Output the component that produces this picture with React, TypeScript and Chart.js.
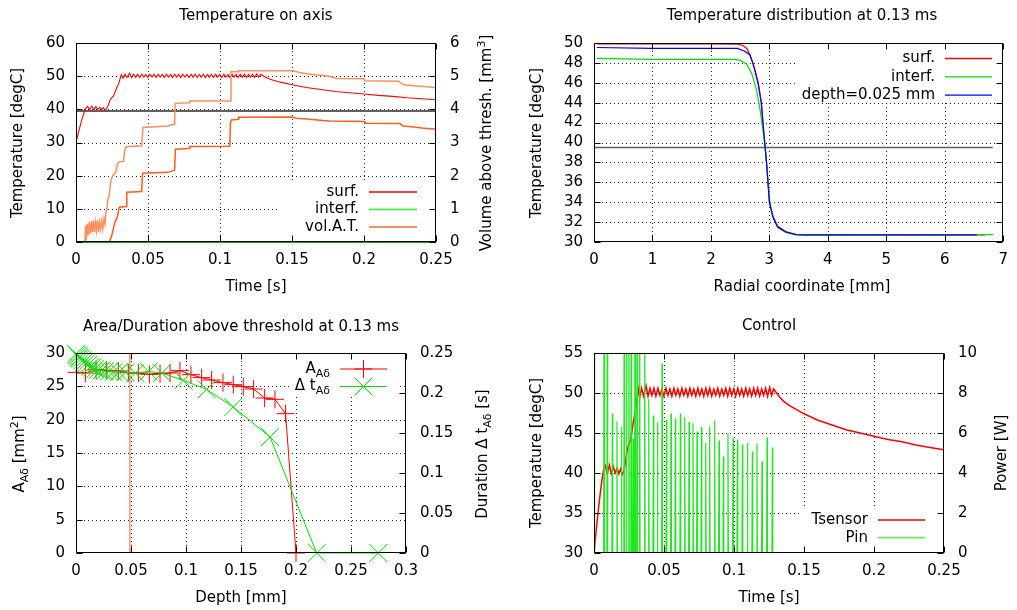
import React, { useEffect, useRef } from 'react';
import { Chart, registerables } from 'chart.js';

Chart.register(...registerables);

// ---------------- DATA ----------------
// Top-left: Temperature on axis (surface temperature, also used as Tsensor in "Control")
const surfTime = [
  0, 0.002, 0.004, 0.0055, 0.0068,
  0.0081, 0.0095, 0.011, 0.0124, 0.0138, 0.0152, 0.0165, 0.0178, 0.019, 0.0201, 0.0212,
  0.0222, 0.0235, 0.0245, 0.0258, 0.027, 0.0282, 0.0295, 0.0306, 0.0316,
  0.0326, 0.034, 0.0354, 0.0372, 0.0386, 0.04, 0.0414, 0.0428, 0.0442, 0.0457,
  0.0471, 0.0485, 0.0499, 0.0514, 0.0528, 0.0542, 0.0556, 0.0571, 0.0585, 0.0599,
  0.0613, 0.0628, 0.0642, 0.0656, 0.067, 0.0685, 0.0699, 0.0713, 0.0727, 0.0742,
  0.0756, 0.077, 0.0784, 0.0799, 0.0813, 0.0827, 0.0841, 0.0856, 0.087, 0.0884,
  0.0898, 0.0913, 0.0927, 0.0941, 0.0955, 0.097, 0.0984, 0.0998, 0.1012, 0.1027,
  0.1041, 0.1055, 0.1069, 0.1084, 0.1098, 0.1112, 0.1126, 0.1141, 0.1155, 0.1169,
  0.1183, 0.1198, 0.1212, 0.1226, 0.124, 0.1255, 0.1269, 0.1283,
  0.13, 0.133, 0.136, 0.14, 0.145, 0.15, 0.16, 0.17, 0.18, 0.19, 0.2, 0.21, 0.22, 0.23, 0.24, 0.25,
];
const surfTemp = [
  30, 33.6, 36.8, 38.9, 40.4,
  40.9, 39.9, 41.0, 39.9, 40.8, 40.0, 40.6, 39.9, 40.5, 39.8, 40.2,
  41.0, 42.6, 43.4, 43.9, 45.0, 46.5, 47.6, 49.2, 50.5,
  49.4, 50.6, 49.6, 50.9, 49.6, 50.6, 49.7, 50.6, 49.6, 50.6,
  49.7, 50.5, 49.6, 50.6, 49.7, 50.5, 49.6, 50.6, 49.7, 50.5,
  49.6, 50.6, 49.7, 50.5, 49.6, 50.6, 49.7, 50.5, 49.6, 50.6,
  49.7, 50.5, 49.6, 50.6, 49.7, 50.6, 49.6, 50.5, 49.7, 50.6,
  49.6, 50.5, 49.7, 50.6, 49.6, 50.6, 49.7, 50.5, 49.6, 50.6,
  49.7, 50.5, 49.6, 50.6, 49.7, 50.5, 49.6, 50.6, 49.7, 50.6,
  49.6, 50.5, 49.7, 50.6, 49.6, 50.7, 49.7, 50.5,
  50.1, 49.4, 48.9, 48.4, 47.9, 47.4, 46.6, 46.0, 45.4, 45.0, 44.6, 44.2, 43.9, 43.5, 43.2, 42.9,
];
const interfTime = [0, 0.25];
const interfTemp = [0, 0];
const thresholdTime = [0, 0.25];
const thresholdTemp = [39.5, 39.5];

const volUpperTime = [
  0, 0.0062, 0.0066, 0.0071, 0.0078, 0.0085, 0.0092, 0.0099, 0.0106, 0.0113,
  0.012, 0.0127, 0.0134, 0.0141, 0.0148, 0.0156, 0.0163, 0.017, 0.0178, 0.0186,
  0.0194, 0.0201, 0.0208, 0.0214, 0.0222, 0.0231, 0.0238, 0.0246, 0.0256, 0.0266,
  0.0276, 0.0288, 0.0299, 0.033, 0.0338, 0.0348, 0.0456, 0.0465, 0.064, 0.066,
  0.0685, 0.0688, 0.0787, 0.079, 0.107, 0.1076, 0.1127, 0.113, 0.151, 0.156,
  0.1625, 0.17, 0.176, 0.181, 0.2, 0.2007, 0.224, 0.226, 0.2285, 0.2435, 0.25,
];
const volUpperValue = [
  0, 0, 0.5, 0.05, 0.55, 0.2, 0.6, 0.25, 0.62, 0.3,
  0.65, 0.3, 0.6, 0.35, 0.65, 0.3, 0.6, 0.4, 0.65, 0.4,
  0.7, 0.55, 0.9, 1.0, 1.3, 1.4, 1.7, 1.9, 2.0, 2.05,
  2.1, 2.35, 2.42, 2.43, 2.75, 2.87, 2.9, 3.45, 3.5, 3.53,
  3.55, 4.18, 4.2, 4.25, 4.25, 5.13, 5.13, 5.16, 5.16, 5.1,
  5.06, 5.03, 5.0, 4.93, 4.92, 4.86, 4.85, 4.78, 4.73, 4.68, 4.65,
];
const volLowerTime = [
  0, 0.023, 0.0245, 0.0255, 0.0262, 0.027, 0.0283, 0.0292, 0.03, 0.035,
  0.0353, 0.0456, 0.0462, 0.064, 0.066, 0.0685, 0.069, 0.0785, 0.079, 0.1068,
  0.1073, 0.108, 0.1125, 0.113, 0.15, 0.153, 0.16, 0.1717, 0.176, 0.2005,
  0.2012, 0.225, 0.227, 0.235, 0.24, 0.25,
];
const volLowerValue = [
  0, 0, 0.15, 0.3, 0.45, 0.6, 0.71, 0.85, 1.05, 1.07,
  1.5, 1.52, 2.07, 2.1, 2.13, 2.17, 2.8, 2.82, 2.88, 2.89,
  3.62, 3.68, 3.7, 3.76, 3.77, 3.73, 3.71, 3.66, 3.65, 3.63,
  3.58, 3.57, 3.5, 3.47, 3.44, 3.4,
];

// Top-right: Temperature distribution at 0.13 ms
const radialSurf = [0.05, 1, 2, 2.45, 2.55, 2.62, 2.72, 2.81, 2.865, 2.89, 2.92, 2.95, 2.976, 3.0, 3.06, 3.14, 3.28, 3.45, 3.6, 4.5, 5.5, 6.69];
const tempSurf = [49.9, 49.9, 49.9, 49.88, 49.75, 49.4, 48.0, 46.0, 44.0, 42.0, 40.0, 38.0, 36.0, 34.0, 32.6, 31.6, 31.05, 30.77, 30.72, 30.72, 30.72, 30.72];
const radialInterf = [0.05, 1, 2, 2.4, 2.5, 2.61, 2.7, 2.78, 2.84, 2.89, 2.93, 2.96, 2.99, 3.02, 3.08, 3.16, 3.28, 3.45, 3.6, 6.83];
const tempInterf = [48.45, 48.35, 48.35, 48.35, 48.25, 47.9, 46.9, 45.3, 43.3, 41.2, 39.4, 37.5, 35.0, 33.6, 32.2, 31.4, 30.95, 30.75, 30.72, 30.75];
const radialDepth = [0.05, 1, 2, 2.45, 2.57, 2.67, 2.75, 2.81, 2.86, 2.89, 2.92, 2.95, 2.976, 3.0, 3.06, 3.14, 3.28, 3.45, 3.6, 6.55];
const tempDepth = [49.55, 49.45, 49.45, 49.45, 49.2, 48.8, 47.3, 45.8, 44.0, 42.0, 40.0, 38.0, 36.0, 34.0, 32.5, 31.5, 31.0, 30.75, 30.72, 30.72];
const thresholdRadial = [0, 6.82];
const thresholdRadialTemp = [39.5, 39.5];

// Bottom-left: Area/Duration above threshold
const depthA = [0.0005, 0.0085, 0.0182, 0.0279, 0.0385, 0.0476, 0.0567, 0.0667, 0.0764, 0.0855, 0.0945, 0.1045, 0.1142, 0.1233, 0.1336, 0.143, 0.1521, 0.1615, 0.1715, 0.1809, 0.1905, 0.2];
const areaA = [27.1, 27.0, 27.5, 27.4, 27.3, 27.05, 27.0, 26.8, 26.9, 27.0, 27.35, 26.75, 26.3, 25.95, 25.55, 25.25, 24.95, 24.6, 23.25, 23.05, 20.9, 0];
const depthT = [0, 0.001, 0.002, 0.003, 0.0045, 0.006, 0.0075, 0.009, 0.011, 0.013, 0.015, 0.0175, 0.02, 0.023, 0.026, 0.03, 0.034, 0.039, 0.045, 0.054, 0.066, 0.078, 0.0976, 0.1188, 0.143, 0.1764, 0.2188, 0.2748];
const durT = [0.249, 0.247, 0.246, 0.244, 0.243, 0.241, 0.239, 0.237, 0.235, 0.233, 0.232, 0.23, 0.229, 0.228, 0.227, 0.227, 0.226, 0.226, 0.226, 0.225, 0.227, 0.225, 0.2158, 0.2045, 0.1825, 0.145, 0, 0];
const markerDepth = [0.049, 0.049];
const markerArea = [0, 30];

// Bottom-right: Control (Pin pulses)
const pinTime = [
  0, 0.0003, 0.0006, 0.0069, 0.0072, 0.0075, 0.0092, 0.0095, 0.0098,
  0.0128, 0.0131, 0.0134, 0.0161, 0.0164, 0.0167, 0.0193, 0.0196, 0.0199,
  0.0213, 0.0216, 0.0219, 0.0229, 0.0232, 0.0235, 0.0246, 0.0249, 0.0252,
  0.0263, 0.0266, 0.0269, 0.0277, 0.028, 0.0283, 0.029, 0.0293, 0.0296,
  0.0305, 0.0308, 0.0311, 0.0323, 0.0326, 0.0329, 0.0359, 0.0362, 0.0365,
  0.0388, 0.0391, 0.0394, 0.0421, 0.0424, 0.0427, 0.045, 0.0453, 0.0456,
  0.0483, 0.0486, 0.0489, 0.0514, 0.0517, 0.052, 0.0547, 0.055, 0.0553,
  0.0578, 0.0581, 0.0584, 0.0614, 0.0617, 0.062, 0.0645, 0.0648, 0.0651,
  0.0676, 0.0679, 0.0682, 0.0704, 0.0707, 0.071, 0.0733, 0.0736, 0.0739,
  0.0764, 0.0767, 0.077, 0.0795, 0.0798, 0.0801, 0.0823, 0.0826, 0.0829,
  0.0859, 0.0862, 0.0865, 0.089, 0.0893, 0.0896, 0.0921, 0.0924, 0.0927,
  0.0954, 0.0957, 0.096, 0.099, 0.0993, 0.0996, 0.1021, 0.1024, 0.1027,
  0.1057, 0.106, 0.1063, 0.1093, 0.1096, 0.1099, 0.1128, 0.1131, 0.1134,
  0.1161, 0.1164, 0.1167, 0.1197, 0.12, 0.1203, 0.1233, 0.1236, 0.1239,
  0.1271, 0.1274, 0.1277,
];
const pinPower = [
  0, 15, 0, 0, 15, 0, 0, 15, 0,
  0, 6.97, 0, 0, 6.58, 0, 0, 6.3, 0,
  0, 15, 0, 0, 15, 0, 0, 15, 0,
  0, 15, 0, 0, 5.7, 0, 0, 15, 0,
  0, 15, 0, 0, 15, 0, 0, 15, 0,
  0, 7.7, 0, 0, 6.87, 0, 0, 6.53, 0,
  0, 9.47, 0, 0, 6.67, 0, 0, 6.97, 0,
  0, 6.72, 0, 0, 6.97, 0, 0, 6.8, 0,
  0, 6.55, 0, 0, 6.47, 0, 0, 6.08, 0,
  0, 6.3, 0, 0, 5.5, 0, 0, 6.33, 0,
  0, 6.62, 0, 0, 5.62, 0, 0, 4.83, 0,
  0, 5.97, 0, 0, 5.72, 0, 0, 5.67, 0,
  0, 5.42, 0, 0, 5.5, 0, 0, 5.08, 0,
  0, 5.47, 0, 0, 4.58, 0, 0, 5.78, 0,
  0, 5.28, 0,
];

// ---------------- STYLE ----------------
const FIG_W = 1017;
const FIG_H = 610;
const FAMILY = '"DejaVu Sans", "Liberation Sans", sans-serif';
const FS = 15;
const YW = 60;
const XH = 30;
const RED = '#ff0000';
const GREEN = '#00e000';
const BLUE = '#0000ff';
const ORANGE_L = '#ff8f5e';
const ORANGE_D = '#ff5c1f';
const GRAY = '#606060';

type Part = { t: string; s?: 'sub' | 'sup' };
type LegendEntry = { parts: Part[]; color: string; width: number; marker?: 'plus' | 'cross' };
type Decor = {
  title: string; titleX: number; titleY: number;
  xTitle: Part[]; xTitleX: number; xTitleY: number;
  yTitle: Part[]; yTitleX: number; yTitleY: number;
  y2Title?: Part[]; y2TitleX?: number; y2TitleY?: number;
  box: [number, number, number, number];
  legend: LegendEntry[];
  textRight: number; s0: number; s1: number; row0: number; rowDy: number;
};

const fontFor = (p: Part) => `${p.s ? 11 : FS}px ${FAMILY}`;

function drawParts(ctx: CanvasRenderingContext2D, parts: Part[], x: number, y: number, align: 'center' | 'right', rot = 0) {
  ctx.save();
  ctx.translate(x, y);
  ctx.rotate(rot);
  let w = 0;
  for (const p of parts) { ctx.font = fontFor(p); w += ctx.measureText(p.t).width; }
  let cx = align === 'center' ? -w / 2 : -w;
  ctx.textBaseline = 'middle';
  ctx.textAlign = 'left';
  ctx.fillStyle = '#000';
  for (const p of parts) {
    ctx.font = fontFor(p);
    const dy = p.s === 'sub' ? 5 : p.s === 'sup' ? -5 : 0;
    ctx.fillText(p.t, cx, dy);
    cx += ctx.measureText(p.t).width;
  }
  ctx.restore();
}

function drawMarker(ctx: CanvasRenderingContext2D, kind: 'plus' | 'cross', x: number, y: number, color: string) {
  ctx.save();
  ctx.strokeStyle = color;
  ctx.lineWidth = 1;
  ctx.beginPath();
  if (kind === 'plus') {
    ctx.moveTo(x - 9, y); ctx.lineTo(x + 9, y); ctx.moveTo(x, y - 9); ctx.lineTo(x, y + 9);
  } else {
    ctx.moveTo(x - 9, y - 9); ctx.lineTo(x + 9, y + 9); ctx.moveTo(x - 9, y + 9); ctx.lineTo(x + 9, y - 9);
  }
  ctx.stroke();
  ctx.restore();
}

function makeDecor(d: Decor) {
  return {
    id: 'gpdecor',
    beforeDatasetsDraw(chart: any) {
      const { ctx, chartArea: a } = chart;
      const xs = chart.scales.x;
      const ys = chart.scales.y;
      ctx.save();
      ctx.strokeStyle = 'rgba(0,0,0,0.85)';
      ctx.lineWidth = 1;
      ctx.setLineDash([1, 3]);
      ctx.beginPath();
      for (const t of xs.ticks) {
        const p = Math.round(xs.getPixelForValue(t.value)) + 0.5;
        if (p < a.left + 2 || p > a.right - 2) continue;
        ctx.moveTo(p, a.top); ctx.lineTo(p, a.bottom);
      }
      for (const t of ys.ticks) {
        const p = Math.round(ys.getPixelForValue(t.value)) + 0.5;
        if (p < a.top + 2 || p > a.bottom - 2) continue;
        ctx.moveTo(a.left, p); ctx.lineTo(a.right, p);
      }
      ctx.stroke();
      ctx.setLineDash([]);
      const [bx0, by0, bx1, by1] = d.box;
      ctx.fillStyle = '#fff';
      ctx.fillRect(bx0, by0, bx1 - bx0, by1 - by0);
      ctx.restore();
    },
    afterDatasetsDraw(chart: any) {
      const { ctx, chartArea: a } = chart;
      const xs = chart.scales.x;
      const ys = chart.scales.y;
      const y2 = chart.scales.y2;
      ctx.save();
      ctx.strokeStyle = '#000';
      ctx.lineWidth = 1;
      const L = Math.round(a.left) + 0.5, R = Math.round(a.right) - 0.5;
      const T = Math.round(a.top) + 0.5, B = Math.round(a.bottom) - 0.5;
      ctx.strokeRect(L, T, R - L, B - T);
      ctx.beginPath();
      for (const t of xs.ticks) {
        const p = Math.round(xs.getPixelForValue(t.value)) + 0.5;
        ctx.moveTo(p, B); ctx.lineTo(p, B - 6);
        ctx.moveTo(p, T); ctx.lineTo(p, T + 6);
      }
      for (const t of ys.ticks) {
        const p = Math.round(ys.getPixelForValue(t.value)) + 0.5;
        ctx.moveTo(L, p); ctx.lineTo(L + 6, p);
        if (!y2) { ctx.moveTo(R, p); ctx.lineTo(R - 6, p); }
      }
      if (y2) {
        for (const t of y2.ticks) {
          const p = Math.round(y2.getPixelForValue(t.value)) + 0.5;
          ctx.moveTo(R, p); ctx.lineTo(R - 6, p);
        }
      }
      ctx.stroke();

      // legend
      d.legend.forEach((e, i) => {
        const y = d.row0 + i * d.rowDy;
        drawParts(ctx, e.parts, d.textRight, y, 'right');
        ctx.save();
        ctx.strokeStyle = e.color;
        ctx.lineWidth = e.width;
        ctx.beginPath();
        ctx.moveTo(d.s0, y); ctx.lineTo(d.s1, y);
        ctx.stroke();
        ctx.restore();
        if (e.marker) drawMarker(ctx, e.marker, (d.s0 + d.s1) / 2, y, e.color);
      });

      // titles
      drawParts(ctx, [{ t: d.title }], d.titleX, d.titleY, 'center');
      drawParts(ctx, d.xTitle, d.xTitleX, d.xTitleY, 'center');
      drawParts(ctx, d.yTitle, d.yTitleX, d.yTitleY, 'center', -Math.PI / 2);
      if (d.y2Title) drawParts(ctx, d.y2Title, d.y2TitleX as number, d.y2TitleY as number, 'center', -Math.PI / 2);
      ctx.restore();
    },
  };
}

const fmt = (v: any) => String(Math.round(Number(v) * 1000) / 1000);
const tickFont = { family: FAMILY, size: FS };

function xAxis(min: number, max: number, step: number) {
  return {
    type: 'linear', position: 'bottom', min, max,
    ticks: { stepSize: step, padding: 9, font: tickFont, color: '#000', maxRotation: 0, autoSkip: false, callback: fmt },
    grid: { display: false, drawTicks: false },
    border: { display: false },
    afterFit: (s: any) => { s.height = XH; },
  };
}
function yAxis(position: 'left' | 'right', min: number, max: number, step: number) {
  return {
    type: 'linear', position, min, max,
    ticks: { stepSize: step, padding: position === 'left' ? 11 : 14, font: tickFont, color: '#000', autoSkip: false, callback: fmt },
    grid: { display: false, drawTicks: false },
    border: { display: false },
    afterFit: (s: any) => { s.width = YW; },
  };
}

function series(xs: number[], ys: number[], color: string, width: number, yAxisID = 'y', extra: any = {}) {
  return {
    data: xs.map((x, i) => ({ x, y: ys[i] })),
    borderColor: color, backgroundColor: color, borderWidth: width,
    pointRadius: 0, yAxisID, fill: false, tension: 0, ...extra,
  };
}

function makeConfig(rect: [number, number, number, number], hasY2: boolean, scales: any, datasets: any[], decor: Decor) {
  const [L, R, T, B] = rect;
  return {
    type: 'line',
    data: { datasets },
    options: {
      responsive: false, animation: false, devicePixelRatio: 1, events: [],
      layout: { padding: { left: L - YW, right: FIG_W - R - (hasY2 ? YW : 0), top: T, bottom: FIG_H - B - XH } },
      plugins: { legend: { display: false }, title: { display: false }, tooltip: { enabled: false } },
      scales,
    },
    plugins: [makeDecor(decor)],
  } as any;
}

function cfgAxis() {
  return makeConfig([76, 436, 43, 242], true,
    { x: xAxis(0, 0.25, 0.05), y: yAxis('left', 0, 60, 10), y2: yAxis('right', 0, 6, 1) },
    [
      series(volLowerTime, volLowerValue, ORANGE_D, 1.5, 'y2'),
      series(volUpperTime, volUpperValue, ORANGE_L, 1.5, 'y2'),
      series(interfTime, interfTemp, '#1f9a1f', 2, 'y', { clip: 3 }),
      series(surfTime, surfTemp, RED, 1.1),
      series(thresholdTime, thresholdTemp, GRAY, 2),
    ],
    {
      title: 'Temperature on axis', titleX: 256, titleY: 16,
      xTitle: [{ t: 'Time [s]' }], xTitleX: 256, xTitleY: 287,
      yTitle: [{ t: 'Temperature [degC]' }], yTitleX: 18, yTitleY: 143,
      y2Title: [{ t: 'Volume above thresh. [mm' }, { t: '3', s: 'sup' }, { t: ']' }], y2TitleX: 487, y2TitleY: 143,
      box: [280, 183, 430, 241],
      legend: [
        { parts: [{ t: 'surf.' }], color: RED, width: 1.3 },
        { parts: [{ t: 'interf.' }], color: '#33ee33', width: 1.5 },
        { parts: [{ t: 'vol.A.T.' }], color: ORANGE_L, width: 1.8 },
      ],
      textRight: 359, s0: 369, s1: 417, row0: 192, rowDy: 17.5,
    });
}

function cfgRadial() {
  return makeConfig([594, 1011, 43, 242], false,
    { x: xAxis(0, 7, 1), y: yAxis('left', 30, 50, 2) },
    [
      series(radialDepth, tempDepth, BLUE, 1.2),
      series(radialInterf, tempInterf, GREEN, 1.2),
      series(radialSurf, tempSurf, RED, 1.2),
      series(thresholdRadial, thresholdRadialTemp, GRAY, 1.5),
    ],
    {
      title: 'Temperature distribution at 0.13 ms', titleX: 802, titleY: 16,
      xTitle: [{ t: 'Radial coordinate [mm]' }], xTitleX: 802, xTitleY: 287,
      yTitle: [{ t: 'Temperature [degC]' }], yTitleX: 537, yTitleY: 143,
      box: [798, 44, 1010, 101],
      legend: [
        { parts: [{ t: 'surf.' }], color: RED, width: 1.3 },
        { parts: [{ t: 'interf.' }], color: GREEN, width: 1.3 },
        { parts: [{ t: 'depth=0.025 mm' }], color: BLUE, width: 1.3 },
      ],
      textRight: 935, s0: 945, s1: 992, row0: 58.5, rowDy: 18.3,
    });
}

function cfgArea() {
  return makeConfig([76, 406, 353, 553], true,
    { x: xAxis(0, 0.3, 0.05), y: yAxis('left', 0, 30, 5), y2: yAxis('right', 0, 0.25, 0.05) },
    [
      series(depthT, durT, GREEN, 1, 'y2', { clip: false, pointStyle: 'crossRot', pointRadius: 12.7, pointBorderWidth: 1, pointBorderColor: GREEN }),
      series(depthA, areaA, RED, 1, 'y', { clip: false, pointStyle: 'cross', pointRadius: 9, pointBorderWidth: 1, pointBorderColor: RED }),
      series(markerDepth, markerArea, ORANGE_D, 1),
    ],
    {
      title: 'Area/Duration above threshold at 0.13 ms', titleX: 241, titleY: 327,
      xTitle: [{ t: 'Depth [mm]' }], xTitleX: 241, xTitleY: 598,
      yTitle: [{ t: 'A' }, { t: 'Aδ', s: 'sub' }, { t: ' [mm' }, { t: '2', s: 'sup' }, { t: ']' }], yTitleX: 20, yTitleY: 454,
      y2Title: [{ t: 'Duration Δ t' }, { t: 'Aδ', s: 'sub' }, { t: ' [s]' }], y2TitleX: 483, y2TitleY: 454,
      box: [290, 354, 400, 397],
      legend: [
        { parts: [{ t: 'A' }, { t: 'Aδ', s: 'sub' }], color: RED, width: 1.2, marker: 'plus' },
        { parts: [{ t: 'Δ t' }, { t: 'Aδ', s: 'sub' }], color: GREEN, width: 1.2, marker: 'cross' },
      ],
      textRight: 330, s0: 340, s1: 387, row0: 369, rowDy: 17.5,
    });
}

function cfgControl() {
  return makeConfig([594, 944, 353, 553], true,
    { x: xAxis(0, 0.25, 0.05), y: yAxis('left', 30, 55, 5), y2: yAxis('right', 0, 10, 2) },
    [
      series(pinTime, pinPower, '#22e622', 1.2, 'y2'),
      series(surfTime, surfTemp, RED, 1.5),
    ],
    {
      title: 'Control', titleX: 769, titleY: 326,
      xTitle: [{ t: 'Time [s]' }], xTitleX: 769, xTitleY: 598,
      yTitle: [{ t: 'Temperature [degC]' }], yTitleX: 537, yTitleY: 453,
      y2Title: [{ t: 'Power [W]' }], y2TitleX: 1002, y2TitleY: 453,
      box: [800, 506, 936, 552],
      legend: [
        { parts: [{ t: 'Tsensor' }], color: RED, width: 1.6 },
        { parts: [{ t: 'Pin' }], color: '#66ee66', width: 1.8 },
      ],
      textRight: 868, s0: 878, s1: 925, row0: 520, rowDy: 17.7,
    });
}

export default function App() {
  const r1 = useRef<HTMLCanvasElement>(null);
  const r2 = useRef<HTMLCanvasElement>(null);
  const r3 = useRef<HTMLCanvasElement>(null);
  const r4 = useRef<HTMLCanvasElement>(null);

  useEffect(() => {
    const charts = [
      new Chart(r1.current as HTMLCanvasElement, cfgAxis()),
      new Chart(r2.current as HTMLCanvasElement, cfgRadial()),
      new Chart(r3.current as HTMLCanvasElement, cfgArea()),
      new Chart(r4.current as HTMLCanvasElement, cfgControl()),
    ];
    return () => charts.forEach((c) => c.destroy());
  }, []);

  const cs: React.CSSProperties = { position: 'absolute', left: 0, top: 0, width: FIG_W, height: FIG_H };
  return (
    <div style={{ position: 'absolute', left: 0, top: 0, width: FIG_W, height: FIG_H, background: '#fff', overflow: 'hidden' }}>
      <canvas ref={r1} width={FIG_W} height={FIG_H} style={cs} />
      <canvas ref={r2} width={FIG_W} height={FIG_H} style={cs} />
      <canvas ref={r3} width={FIG_W} height={FIG_H} style={cs} />
      <canvas ref={r4} width={FIG_W} height={FIG_H} style={cs} />
    </div>
  );
}
